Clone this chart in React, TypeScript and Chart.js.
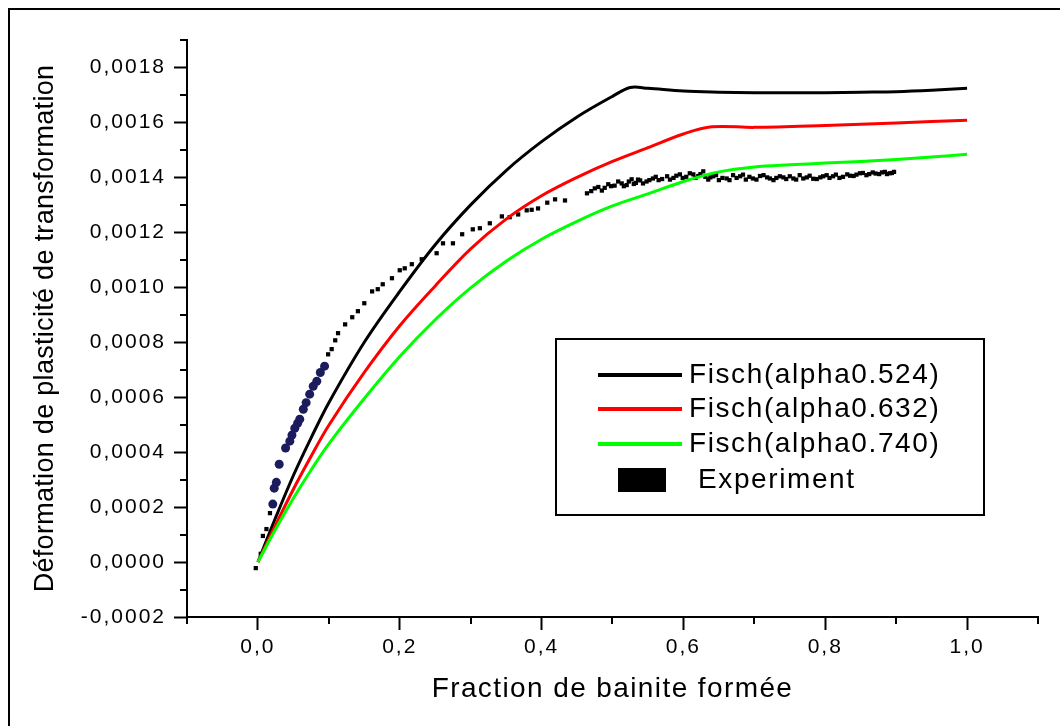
import { useEffect, useRef } from 'react';
import { Chart, registerables } from 'chart.js';

Chart.register(...registerables);

const FONT = 'Arial, "Liberation Sans", sans-serif';

// Axis tick positions (labels only on even steps)
const xTickValues = [-0.1, 0, 0.1, 0.2, 0.3, 0.4, 0.5, 0.6, 0.7, 0.8, 0.9, 1.0, 1.1];
const yTickValues = [
  -0.0002, -0.0001, 0, 0.0001, 0.0002, 0.0003, 0.0004, 0.0005, 0.0006, 0.0007, 0.0008,
  0.0009, 0.001, 0.0011, 0.0012, 0.0013, 0.0014, 0.0015, 0.0016, 0.0017, 0.0018, 0.0019,
];

// Fisch model, alpha = 0.524
const fischAX = [0, 0.025, 0.05, 0.075, 0.1, 0.15, 0.2, 0.25, 0.3, 0.35, 0.4, 0.45, 0.5, 0.525, 0.55, 0.6, 0.65, 0.7, 0.75, 0.8, 0.85, 0.9, 0.95, 1.0];
const fischAY = [0, 0.000162, 0.000315, 0.000452, 0.00058, 0.0008, 0.000985, 0.001155, 0.0013, 0.001425, 0.00153, 0.00162, 0.001695, 0.001727, 0.001724, 0.001714, 0.00171, 0.001708, 0.001708, 0.001708, 0.00171, 0.001712, 0.001717, 0.001724];

// Fisch model, alpha = 0.632
const fischBX = [0, 0.025, 0.05, 0.075, 0.1, 0.15, 0.2, 0.25, 0.3, 0.35, 0.4, 0.45, 0.5, 0.55, 0.6, 0.64, 0.7, 0.8, 0.9, 1.0];
const fischBY = [0, 0.000135, 0.000265, 0.000385, 0.000498, 0.00069, 0.00086, 0.001005, 0.00114, 0.001248, 0.001333, 0.0014, 0.001458, 0.001508, 0.001558, 0.001584, 0.001582, 0.001589, 0.001598, 0.001608];

// Fisch model, alpha = 0.740
const fischCX = [0, 0.025, 0.05, 0.075, 0.1, 0.15, 0.2, 0.25, 0.3, 0.35, 0.4, 0.45, 0.5, 0.55, 0.6, 0.65, 0.7, 0.75, 0.8, 0.85, 0.9, 0.95, 1.0];
const fischCY = [0, 0.00012, 0.000232, 0.000335, 0.00043, 0.000595, 0.000748, 0.000882, 0.000998, 0.001095, 0.001175, 0.00124, 0.001296, 0.00134, 0.001385, 0.00142, 0.001438, 0.001446, 0.001452, 0.001458, 0.001465, 0.001474, 0.001484];

// Measured transformation plasticity strain
const expX = [
  -0.003, 0.004, 0.007, 0.012, 0.017, 0.021, 0.023, 0.026, 0.03, 0.039, 0.045, 0.048, 0.052, 0.056,
  0.059, 0.064, 0.068, 0.073, 0.078, 0.083, 0.088, 0.094, 0.099, 0.104, 0.109, 0.113, 0.123, 0.133,
  0.141, 0.15, 0.161, 0.169, 0.176, 0.189, 0.2, 0.207, 0.217, 0.231, 0.252, 0.261, 0.275, 0.288,
  0.303, 0.313, 0.327, 0.344, 0.355, 0.367, 0.379, 0.386, 0.395, 0.408, 0.419, 0.433, 0.464, 0.47,
  0.475, 0.48, 0.485, 0.489, 0.494, 0.498, 0.503, 0.508, 0.513, 0.516, 0.52, 0.523, 0.527, 0.53,
  0.533, 0.536, 0.539, 0.543, 0.548, 0.552, 0.557, 0.561, 0.565, 0.57, 0.577, 0.581, 0.586, 0.59,
  0.595, 0.599, 0.604, 0.609, 0.614, 0.617, 0.621, 0.624, 0.628, 0.631, 0.635, 0.638, 0.642, 0.646,
  0.65, 0.655, 0.661, 0.665, 0.67, 0.675, 0.68, 0.684, 0.688, 0.693, 0.698, 0.703, 0.708, 0.713,
  0.718, 0.722, 0.727, 0.731, 0.736, 0.741, 0.745, 0.75, 0.755, 0.759, 0.764, 0.769, 0.774, 0.778,
  0.783, 0.788, 0.793, 0.797, 0.802, 0.806, 0.811, 0.815, 0.82, 0.825, 0.831, 0.835, 0.84, 0.844,
  0.849, 0.853, 0.858, 0.862, 0.867, 0.871, 0.876, 0.88, 0.884, 0.887, 0.891, 0.894, 0.897,
];
const expY = [
  -0.000022, 0.00003, 0.000095, 0.00012, 0.000178, 0.000211, 0.000269, 0.00029, 0.000356, 0.000415,
  0.00044, 0.000462, 0.000487, 0.000505, 0.00052, 0.000556, 0.00058, 0.000611, 0.00064, 0.000658,
  0.00069, 0.000713, 0.000756, 0.000775, 0.000807, 0.000833, 0.000865, 0.000891, 0.000913, 0.000942,
  0.000985, 0.000993, 0.001011, 0.001033, 0.001062, 0.001069, 0.001084, 0.001102, 0.001124, 0.00116,
  0.00116, 0.001193, 0.001211, 0.001215, 0.001233, 0.001258, 0.001255, 0.001265, 0.00128, 0.001282,
  0.001287, 0.001308, 0.00132, 0.001316, 0.001342, 0.00135, 0.00136, 0.001365, 0.001352, 0.001362,
  0.001375, 0.001368, 0.00137, 0.001385, 0.001378, 0.001368, 0.001372, 0.001385, 0.001393, 0.001376,
  0.00138, 0.001392, 0.001389, 0.001378, 0.001385, 0.00139, 0.001396, 0.001402, 0.00139, 0.001394,
  0.001404, 0.001392, 0.001398, 0.001406, 0.001411, 0.001398, 0.001402, 0.001415, 0.001411, 0.001398,
  0.001405, 0.001412, 0.001422, 0.001402, 0.001392, 0.0014, 0.001404, 0.001408, 0.00139, 0.001398,
  0.001396, 0.00139, 0.001408, 0.001398, 0.001404, 0.00141, 0.001392, 0.001402, 0.001396, 0.001392,
  0.001405, 0.001408, 0.0014, 0.001396, 0.00139, 0.001398, 0.001404, 0.0014, 0.001394, 0.001404,
  0.001396, 0.001392, 0.001408, 0.001396, 0.0014, 0.001406, 0.001395, 0.001394, 0.0014, 0.001404,
  0.001408, 0.001398, 0.001404, 0.00141, 0.001398, 0.001402, 0.001411, 0.001406, 0.001405, 0.00141,
  0.001415, 0.001416, 0.001408, 0.001412, 0.001418, 0.001414, 0.001412, 0.001418, 0.00142, 0.001412,
  0.001415, 0.001416, 0.00142,
];

const seriesLabels = ['Fisch(alpha0.524)', 'Fisch(alpha0.632)', 'Fisch(alpha0.740)', 'Experiment'];
const seriesColors = ['#000000', '#ff0000', '#00ff00', '#000000'];

const toPoints = (xs: number[], ys: number[]) => xs.map((x, i) => ({ x, y: ys[i] }));

const isMajorX = (v: number) => Math.round(v * 10) % 2 === 0;
const isMajorY = (v: number) => Math.round(v * 10000) % 2 === 0;

const titleSpacing: Record<string, string> = { x: '1.4px', y: '0.3px' };

// Letter spacing for tick labels and per-axis titles, plus the outer frame
const spacingPlugin = {
  id: 'spacing',
  beforeDraw(chart: any) {
    chart.ctx.letterSpacing = '2px';
    for (const id of ['x', 'y']) {
      const scale = chart.scales[id];
      if (scale && !scale.__spaced) {
        const orig = scale.drawTitle.bind(scale);
        scale.drawTitle = () => {
          const c = chart.ctx;
          const prev = c.letterSpacing;
          c.letterSpacing = titleSpacing[id];
          orig();
          c.letterSpacing = prev;
        };
        scale.__spaced = true;
      }
    }
    const ctx = chart.ctx;
    ctx.save();
    ctx.strokeStyle = '#000';
    ctx.lineWidth = 2;
    ctx.strokeRect(9, 9, 1200, 900);
    ctx.restore();
  },
};

// Short minor tick marks between labelled ticks
const minorTickPlugin = {
  id: 'minorTicks',
  afterDraw(chart: any) {
    const ctx = chart.ctx;
    const { x, y } = chart.scales;
    const area = chart.chartArea;
    ctx.save();
    ctx.strokeStyle = '#000';
    ctx.lineWidth = 2;
    ctx.beginPath();
    xTickValues.filter((v) => !isMajorX(v)).forEach((v) => {
      const px = Math.round(x.getPixelForValue(v));
      ctx.moveTo(px, area.bottom);
      ctx.lineTo(px, area.bottom + 7);
    });
    yTickValues.filter((v) => !isMajorY(v)).forEach((v) => {
      const py = Math.round(y.getPixelForValue(v));
      ctx.moveTo(area.left - 7, py);
      ctx.lineTo(area.left, py);
    });
    ctx.stroke();
    ctx.restore();
  },
};

// Boxed legend inside the plot
const boxLegendPlugin = {
  id: 'boxLegend',
  afterDraw(chart: any) {
    const ctx = chart.ctx;
    ctx.save();
    ctx.letterSpacing = '1.6px';
    ctx.strokeStyle = '#000';
    ctx.lineWidth = 2;
    ctx.strokeRect(556, 339, 428, 176);
    ctx.font = `28px ${FONT}`;
    ctx.textBaseline = 'middle';
    ctx.textAlign = 'left';
    ctx.fillStyle = '#000';
    const rows = [375, 409, 444, 480];
    chart.data.datasets.forEach((ds: any, i: number) => {
      const yy = rows[i];
      if (ds.showLine) {
        ctx.strokeStyle = ds.borderColor;
        ctx.lineWidth = 4;
        ctx.beginPath();
        ctx.moveTo(598, yy);
        ctx.lineTo(682, yy);
        ctx.stroke();
        ctx.fillText(ds.label, 689, yy);
      } else {
        ctx.fillStyle = '#000';
        ctx.fillRect(618, yy - 12, 48, 24);
        ctx.fillText(ds.label, 698, yy);
      }
    });
    ctx.restore();
  },
};

const isEarly = (c: any) => c.raw && c.raw.x > 0.02 && c.raw.x < 0.095;

export default function App() {
  const ref = useRef<HTMLCanvasElement>(null);

  useEffect(() => {
    if (!ref.current) return;
    Chart.defaults.font.family = FONT;
    Chart.defaults.color = '#000';

    const lineDataset = (i: number, xs: number[], ys: number[], order: number) => ({
      label: seriesLabels[i],
      data: toPoints(xs, ys),
      showLine: true,
      borderColor: seriesColors[i],
      backgroundColor: seriesColors[i],
      borderWidth: 3,
      pointRadius: 0,
      tension: 0.35,
      order,
    });

    const chart = new Chart(ref.current, {
      type: 'scatter',
      data: {
        datasets: [
          lineDataset(0, fischAX, fischAY, 2),
          lineDataset(1, fischBX, fischBY, 1),
          lineDataset(2, fischCX, fischCY, 0),
          {
            label: seriesLabels[3],
            data: toPoints(expX, expY),
            showLine: false,
            order: 3,
            pointStyle: (c: any) => (isEarly(c) ? 'circle' : 'rect'),
            pointRadius: (c: any) => (isEarly(c) ? 4.5 : 3),
            pointBackgroundColor: (c: any) => (isEarly(c) ? '#1b1b5e' : '#000'),
            pointBorderWidth: 0,
            borderColor: '#000',
            backgroundColor: '#000',
          } as any,
        ],
      },
      options: {
        responsive: false,
        animation: false,
        events: [],
        layout: { padding: { top: 40, right: 22, bottom: 0, left: 0 } },
        plugins: { legend: { display: false }, tooltip: { enabled: false } },
        scales: {
          x: {
            type: 'linear',
            min: -0.1,
            max: 1.1,
            afterBuildTicks: (s: any) => {
              s.ticks = xTickValues.map((value) => ({ value }));
            },
            afterFit: (s: any) => {
              s.height = 109;
            },
            ticks: {
              autoSkip: false,
              maxRotation: 0,
              padding: 5,
              font: { size: 21 },
              color: '#000',
              callback: (v: any) => (isMajorX(Number(v)) ? Number(v).toFixed(1).replace('.', ',') : ''),
            },
            grid: {
              drawOnChartArea: false,
              drawTicks: true,
              tickLength: 13,
              tickWidth: 2,
              tickColor: (c: any) => (c.tick && isMajorX(c.tick.value) ? '#000' : 'rgba(0,0,0,0)'),
            },
            border: { display: true, color: '#000', width: 2 },
            title: {
              display: true,
              text: 'Fraction de bainite formée',
              font: { size: 28 },
              color: '#000',
              padding: { top: 0, bottom: 20 },
            },
          },
          y: {
            type: 'linear',
            min: -0.0002,
            max: 0.0019,
            afterBuildTicks: (s: any) => {
              s.ticks = yTickValues.map((value) => ({ value }));
            },
            afterFit: (s: any) => {
              s.width = 187;
            },
            ticks: {
              autoSkip: false,
              padding: 8,
              font: { size: 21 },
              color: '#000',
              callback: (v: any) => (isMajorY(Number(v)) ? Number(v).toFixed(4).replace('.', ',') : ''),
            },
            grid: {
              drawOnChartArea: false,
              drawTicks: true,
              tickLength: 13,
              tickWidth: 2,
              tickColor: (c: any) => (c.tick && isMajorY(c.tick.value) ? '#000' : 'rgba(0,0,0,0)'),
            },
            border: { display: true, color: '#000', width: 2 },
            title: {
              display: true,
              text: 'Déformation de plasticité de transformation',
              font: { size: 27 },
              color: '#000',
              padding: { top: 29, bottom: 0 },
            },
          },
        },
      },
      plugins: [spacingPlugin, minorTickPlugin, boxLegendPlugin],
    } as any);

    return () => chart.destroy();
  }, []);

  return (
    <div style={{ position: 'fixed', left: 0, top: 0, width: 1060, height: 726, background: '#fff' }}>
      <canvas ref={ref} width={1060} height={726} style={{ display: 'block' }} />
    </div>
  );
}
